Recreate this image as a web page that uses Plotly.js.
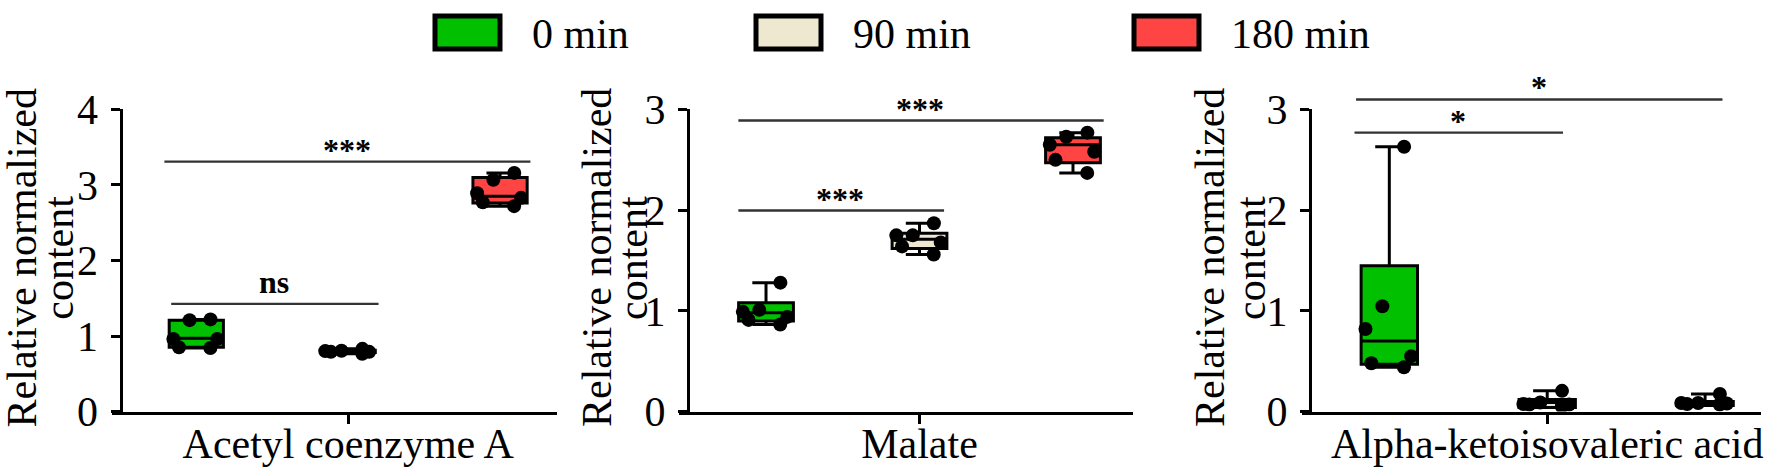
<!DOCTYPE html>
<html>
<head>
<meta charset="utf-8">
<script src="https://cdn.plot.ly/plotly-3.0.1.min.js"></script>
<style>
  html, body { margin: 0; padding: 0; background: #fff; }
  #chart { width: 1772px; height: 473px; }
</style>
</head>
<body>
<div id="chart"></div>
<script>
// groups (time points)
const GROUPS = ["0 min", "90 min", "180 min"];

// Acetyl coenzyme A
const ACETYL_NAME = "Acetyl coenzyme A";
const ACETYL_0 = [1.22, 1.21, 0.96, 0.96, 0.84, 0.85];
const ACETYL_90 = [0.805, 0.79, 0.765, 0.79, 0.80, 0.83];
const ACETYL_180 = [3.16, 3.07, 2.89, 2.83, 2.72, 2.77];
const ACETYL_Q1 = [0.85, 0.78, 2.76];
const ACETYL_MED = [0.97, 0.795, 2.85];
const ACETYL_Q3 = [1.21, 0.81, 3.10];
const ACETYL_SIG = [
	{from: -0.175, to: 1.2, y: 1.425, label: "ns"},
	{from: -0.22, to: 2.2, y: 3.31, label: "***"}
];

// Malate
const MALATE_NAME = "Malate";
const MALATE_0 = [1.28, 1.01, 0.99, 0.94, 0.91, 0.865];
const MALATE_90 = [1.87, 1.68, 1.64, 1.56, 1.75, 1.75];
const MALATE_180 = [2.77, 2.73, 2.65, 2.58, 2.50, 2.37];
const MALATE_Q1 = [0.90, 1.62, 2.47];
const MALATE_MED = [0.98, 1.71, 2.65];
const MALATE_Q3 = [1.08, 1.77, 2.72];
const MALATE_SIG = [
	{from: -0.19, to: 1.16, y: 1.996, label: "***"},
	{from: -0.19, to: 2.2, y: 2.89, label: "***"}
];

// Alpha-ketoisovaleric acid
const ALPHA_NAME = "Alpha-ketoisovaleric acid";
const ALPHA_0 = [2.63, 1.045, 0.82, 0.55, 0.48, 0.44];
const ALPHA_90 = [0.09, 0.075, 0.05, 0.07, 0.07, 0.205];
const ALPHA_180 = [0.085, 0.08, 0.07, 0.075, 0.085, 0.175];
const ALPHA_Q1 = [0.47, 0.04, 0.06];
const ALPHA_MED = [0.70, 0.09, 0.08];
const ALPHA_Q3 = [1.447, 0.12, 0.10];
const ALPHA_SIG = [
	{from: -0.23, to: 1.10, y: 2.77, label: "*"},
	{from: -0.22, to: 2.11, y: 3.10, label: "*"}
];

const Y_TITLE_1 = "Relative normalized";
const Y_TITLE_2 = "content";

// styles
const COLORS = ["#00C000", "#EEE8D0", "#FF4444"];
const FONT = "'Liberation Serif', 'Times New Roman', Times, serif";
const W = 1772, H = 473;
const px = p => p / W;
const py = p => 1 - p / H;

let panels = [
	{name: ACETYL_NAME, vals: [ACETYL_0, ACETYL_90, ACETYL_180], q1: ACETYL_Q1, med: ACETYL_MED, q3: ACETYL_Q3, sig: ACETYL_SIG,
		x0: 112, x1: 557, yAt: 120.5, range: [-0.555, 2.375], ymax: 4, t1: 36.4, t2: 72.7},
	{name: MALATE_NAME, vals: [MALATE_0, MALATE_90, MALATE_180], q1: MALATE_Q1, med: MALATE_MED, q3: MALATE_Q3, sig: MALATE_SIG,
		x0: 679, x1: 1133, yAt: 688, range: [-0.567, 2.391], ymax: 3, t1: 611, t2: 647},
	{name: ALPHA_NAME, vals: [ALPHA_0, ALPHA_90, ALPHA_180], q1: ALPHA_Q1, med: ALPHA_MED, q3: ALPHA_Q3, sig: ALPHA_SIG,
		x0: 1302, x1: 1761, yAt: 1310, range: [-0.553, 2.354], ymax: 3, t1: 1224, t2: 1265}
];

let data = [];
let annotations = [];
let shapes = [];
let layout = {
	width: W, height: H,
	margin: {l: 0, r: 0, t: 0, b: 0},
	paper_bgcolor: "#fff", plot_bgcolor: "rgba(0,0,0,0)",
	showlegend: false,
	boxgap: 0.49,
	font: {family: FONT, color: "#000"}
};

panels.forEach((p, i) => {
	let n = i === 0 ? "" : String(i + 1);
	let xa = "x" + n, ya = "y" + n;

	GROUPS.forEach((g, j) => {
		let v = p.vals[j];
		// box from the read quartiles, whiskers min..max
		data.push({
			type: "box", xaxis: xa, yaxis: ya,
			x: [g], q1: [p.q1[j]], median: [p.med[j]], q3: [p.q3[j]],
			lowerfence: [Math.min(p.q1[j], ...v)], upperfence: [Math.max(p.q3[j], ...v)],
			fillcolor: COLORS[j], line: {color: "#000", width: 3},
			whiskerwidth: 0.5, boxpoints: false, hoverinfo: "skip"
		});
		// the dots
		data.push({
			type: "box", xaxis: xa, yaxis: ya,
			x: v.map(() => g), y: v,
			boxpoints: "all", jitter: 1, pointpos: 0,
			fillcolor: "rgba(0,0,0,0)", line: {width: 0, color: "rgba(0,0,0,0)"},
			marker: {color: "#000", size: 14},
			hoverinfo: "skip"
		});
	});

	layout["xaxis" + n] = {
		domain: [px(p.x0), px(p.x1)], anchor: ya,
		type: "category", categoryarray: GROUPS, range: p.range,
		showline: true, linecolor: "#000", linewidth: 3,
		ticks: "outside", ticklen: 9, tickwidth: 3, tickcolor: "#000",
		tickvals: [GROUPS[1]], ticktext: [p.name],
		ticklabelstandoff: -16,
		tickfont: {family: FONT, size: 42, color: "#000"},
		showgrid: false, zeroline: false, fixedrange: true
	};
	layout["yaxis" + n] = {
		domain: [0.13, 0.7685], anchor: "free", position: px(p.yAt),
		range: [0, p.ymax], tick0: 0, dtick: 1,
		showline: true, linecolor: "#000", linewidth: 3,
		ticks: "outside", ticklen: 9, tickwidth: 3, tickcolor: "#000",
		ticklabelstandoff: 4,
		tickfont: {family: FONT, size: 42, color: "#000"},
		showgrid: false, zeroline: false, fixedrange: true
	};

	// y titles, two tight lines
	[[Y_TITLE_1, p.t1], [Y_TITLE_2, p.t2]].forEach(([t, base]) => {
		annotations.push({
			xref: "paper", yref: "paper", x: px(base - 14), y: py(258),
			text: t, textangle: -90, showarrow: false,
			xanchor: "center", yanchor: "middle",
			font: {family: FONT, size: 42, color: "#000"}
		});
	});

	// significance bars (domain y so the ones above the top tick still show)
	p.sig.forEach(s => {
		let yd = s.y / p.ymax;
		annotations.push({
			xref: xa, yref: ya + " domain", axref: xa, ayref: "pixel",
			x: s.to, y: yd, ax: s.from, ay: 0,
			text: "", showarrow: true, arrowhead: 0, arrowwidth: 2.4, arrowcolor: "#333",
			standoff: 0, startstandoff: 0
		});
		annotations.push({
			xref: xa, yref: ya + " domain", x: (s.from + s.to) / 2, y: yd,
			text: "<b>" + s.label + "</b>", showarrow: false,
			xanchor: "center", yanchor: "bottom", yshift: s.label === "ns" ? 2 : -8,
			font: {family: FONT, size: 32, color: "#000"}
		});
	});
});

// legend drawn by hand: wide swatches with heavy borders
let legSwatch = [433, 754, 1132];
GROUPS.forEach((g, j) => {
	let x0 = legSwatch[j];
	shapes.push({
		type: "rect", xref: "paper", yref: "paper",
		x0: px(x0 + 2), x1: px(x0 + 67), y0: py(49), y1: py(16),
		fillcolor: COLORS[j], line: {color: "#000", width: 5}
	});
	annotations.push({
		xref: "paper", yref: "paper", x: px(x0 + 97), y: py(34),
		text: g, showarrow: false, xanchor: "left", yanchor: "middle",
		font: {family: FONT, size: 42, color: "#000"}
	});
});

layout.annotations = annotations;
layout.shapes = shapes;

Plotly.newPlot("chart", data, layout, {displayModeBar: false, staticPlot: true});
</script>
</body>
</html>
